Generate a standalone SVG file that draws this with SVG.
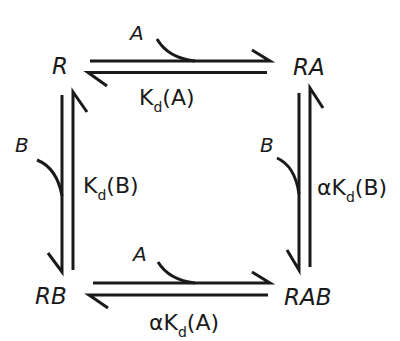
<svg xmlns="http://www.w3.org/2000/svg" width="400" height="341" viewBox="0 0 400 341">
<style>
.ln{stroke:#1a1a1a;stroke-width:3;fill:none;stroke-linecap:butt}
.sp{font-family:"DejaVu Sans","Open Sans",sans-serif;font-style:italic;font-size:23px;fill:#1a1a1a}
.lig{font-family:"DejaVu Sans","Open Sans",sans-serif;font-style:italic;font-size:20px;fill:#1a1a1a}
.k{font-family:"DejaVu Sans","Open Sans",sans-serif;font-size:22px;fill:#1a1a1a}
.sub{font-size:14px}
</style>
<rect width="400" height="341" fill="#fff"/>
<g id="R"><text class="sp" x="52" y="74">R</text></g>
<g id="RA"><text class="sp" x="293" y="75">RA</text></g>
<g id="RB"><text class="sp" x="35" y="304">RB</text></g>
<g id="RAB"><text class="sp" x="284" y="305">RAB</text></g>
<g id="connectors">
 <path class="ln" d="M90,61 H270 L252,50"/>
 <path class="ln" d="M267,72.5 H88 L107,86"/>
 <path class="ln" d="M157,39 Q168,58 195,61"/>
 <path class="ln" d="M93,283 H270 L252,272"/>
 <path class="ln" d="M268,295 H89 L108,308"/>
 <path class="ln" d="M158,262 Q169,280 195,283"/>
 <path class="ln" d="M62,95 V272 L48,253"/>
 <path class="ln" d="M73,270 V92 L87,112"/>
 <path class="ln" d="M37,160 Q57,168 62,196"/>
 <path class="ln" d="M299,93 V270 L287,250"/>
 <path class="ln" d="M310,267 V88 L323,108"/>
 <path class="ln" d="M277,158 Q295,166 299,194"/>
</g>
<g id="labels">
 <text class="lig" x="130" y="40">A</text>
 <text class="lig" x="133" y="261">A</text>
 <text class="lig" x="15" y="152">B</text>
 <text class="lig" x="260" y="152">B</text>
 <text class="k" x="139" y="105">K<tspan class="sub" dy="7">d</tspan><tspan dy="-7">(A)</tspan></text>
 <text class="k" x="83" y="193">K<tspan class="sub" dy="7">d</tspan><tspan dy="-7">(B)</tspan></text>
 <text class="k" x="149" y="330">αK<tspan class="sub" dy="7">d</tspan><tspan dy="-7">(A)</tspan></text>
 <text class="k" x="317" y="195">αK<tspan class="sub" dy="7">d</tspan><tspan dy="-7">(B)</tspan></text>
</g>
</svg>
